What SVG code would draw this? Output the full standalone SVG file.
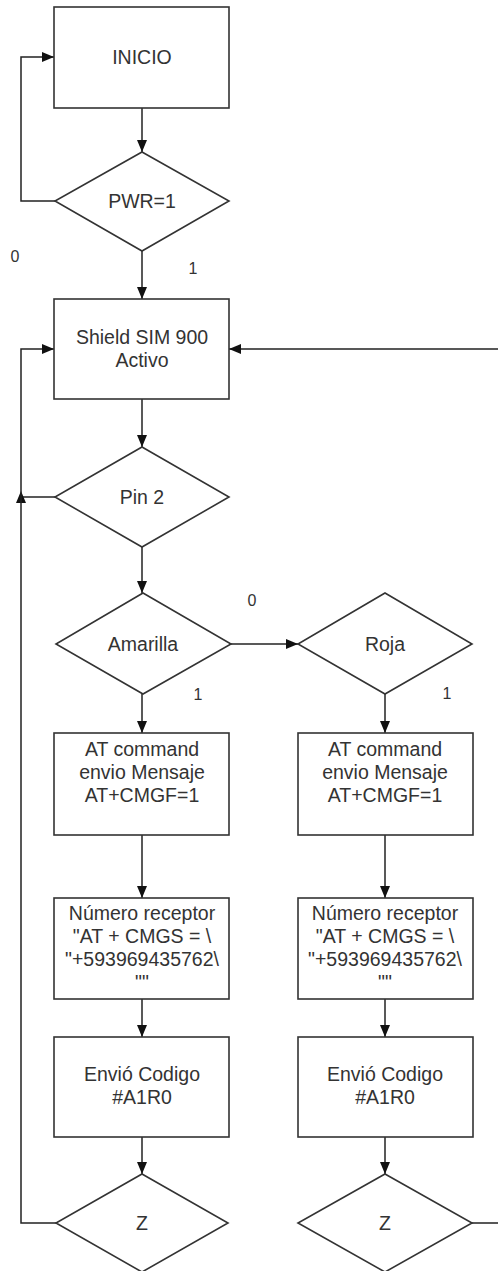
<svg xmlns="http://www.w3.org/2000/svg" width="498" height="1271" viewBox="0 0 498 1271">
<style>
.n{fill:#fff;stroke:#333;stroke-width:1.6}
.t{font-family:"Liberation Sans",Arial,sans-serif;font-size:19.5px;fill:#333;text-anchor:middle}
.l{font-family:"Liberation Sans",Arial,sans-serif;font-size:16px;fill:#333;text-anchor:middle}
.c{fill:none;stroke:#222;stroke-width:1.5}
</style>
<defs>
<marker id="a" viewBox="0 0 12 10" refX="12" refY="5" markerWidth="12" markerHeight="10" markerUnits="userSpaceOnUse" orient="auto">
<path d="M0,0 L12,5 L0,10 z" fill="#111"/>
</marker>
</defs>
<rect width="498" height="1271" fill="#fff"/>
<g id="connectors">
<path class="c" d="M142,108 V152" marker-end="url(#a)"/>
<path class="c" d="M55,201 H21 V57 H54" marker-end="url(#a)"/>
<path class="c" d="M142,251 V299" marker-end="url(#a)"/>
<path class="c" d="M142,399 V447" marker-end="url(#a)"/>
<path class="c" d="M55,497 H21"/>
<path d="M21,491 L26,503 L16,503 z" fill="#111"/>
<path class="c" d="M142,547 V593" marker-end="url(#a)"/>
<path class="c" d="M231,644 H298" marker-end="url(#a)"/>
<path class="c" d="M142,694 V733" marker-end="url(#a)"/>
<path class="c" d="M385,694 V733" marker-end="url(#a)"/>
<path class="c" d="M142,835 V898" marker-end="url(#a)"/>
<path class="c" d="M385,835 V898" marker-end="url(#a)"/>
<path class="c" d="M142,999 V1037" marker-end="url(#a)"/>
<path class="c" d="M385,999 V1037" marker-end="url(#a)"/>
<path class="c" d="M142,1137 V1174" marker-end="url(#a)"/>
<path class="c" d="M385,1137 V1174" marker-end="url(#a)"/>
<path class="c" d="M56,1223 H21 V349 H54" marker-end="url(#a)"/>
<path class="c" d="M472,1223 H500 V349 H229" marker-end="url(#a)"/>
<text class="l" x="15" y="262">0</text>
<text class="l" x="193" y="274">1</text>
<text class="l" x="252" y="606">0</text>
<text class="l" x="198" y="700">1</text>
<text class="l" x="447" y="699">1</text>
</g>
<g id="inicio">
<rect class="n" x="54" y="7" width="175" height="101"/>
<text class="t" x="142" y="64">INICIO</text>
</g>
<g id="pwr">
<path class="n" d="M142,152 L229,201 L142,251 L55,201 z"/>
<text class="t" x="142" y="208">PWR=1</text>
</g>
<g id="shield">
<rect class="n" x="54" y="299" width="175" height="100"/>
<text class="t" x="142" y="344">Shield SIM 900</text>
<text class="t" x="142" y="367">Activo</text>
</g>
<g id="pin2">
<path class="n" d="M142,447 L229,497 L142,547 L55,497 z"/>
<text class="t" x="142" y="504">Pin 2</text>
</g>
<g id="amarilla">
<path class="n" d="M143,593 L231,644 L143,694 L56,644 z"/>
<text class="t" x="143" y="651">Amarilla</text>
</g>
<g id="roja">
<path class="n" d="M385,593 L472,644 L385,694 L298,644 z"/>
<text class="t" x="385" y="651">Roja</text>
</g>
<g id="at1">
<rect class="n" x="54" y="733" width="175" height="102"/>
<text class="t" x="142" y="756">AT command</text>
<text class="t" x="142" y="779">envio Mensaje</text>
<text class="t" x="142" y="802">AT+CMGF=1</text>
</g>
<g id="at2">
<rect class="n" x="298" y="733" width="175" height="102"/>
<text class="t" x="385" y="756">AT command</text>
<text class="t" x="385" y="779">envio Mensaje</text>
<text class="t" x="385" y="802">AT+CMGF=1</text>
</g>
<g id="num1">
<rect class="n" x="54" y="898" width="175" height="101"/>
<text class="t" x="142" y="920">Número receptor</text>
<text class="t" x="142" y="943">"AT + CMGS = \</text>
<text class="t" x="142" y="966">"+593969435762\</text>
<text class="t" x="142" y="989">""</text>
</g>
<g id="num2">
<rect class="n" x="298" y="898" width="175" height="101"/>
<text class="t" x="385" y="920">Número receptor</text>
<text class="t" x="385" y="943">"AT + CMGS = \</text>
<text class="t" x="385" y="966">"+593969435762\</text>
<text class="t" x="385" y="989">""</text>
</g>
<g id="envio1">
<rect class="n" x="54" y="1037" width="175" height="100"/>
<text class="t" x="142" y="1081">Envió Codigo</text>
<text class="t" x="142" y="1104">#A1R0</text>
</g>
<g id="envio2">
<rect class="n" x="298" y="1037" width="175" height="100"/>
<text class="t" x="385" y="1081">Envió Codigo</text>
<text class="t" x="385" y="1104">#A1R0</text>
</g>
<g id="z1">
<path class="n" d="M142,1174 L228,1223 L142,1272 L56,1223 z"/>
<text class="t" x="142" y="1230">Z</text>
</g>
<g id="z2">
<path class="n" d="M385,1174 L472,1223 L385,1272 L298,1223 z"/>
<text class="t" x="385" y="1230">Z</text>
</g>
</svg>
